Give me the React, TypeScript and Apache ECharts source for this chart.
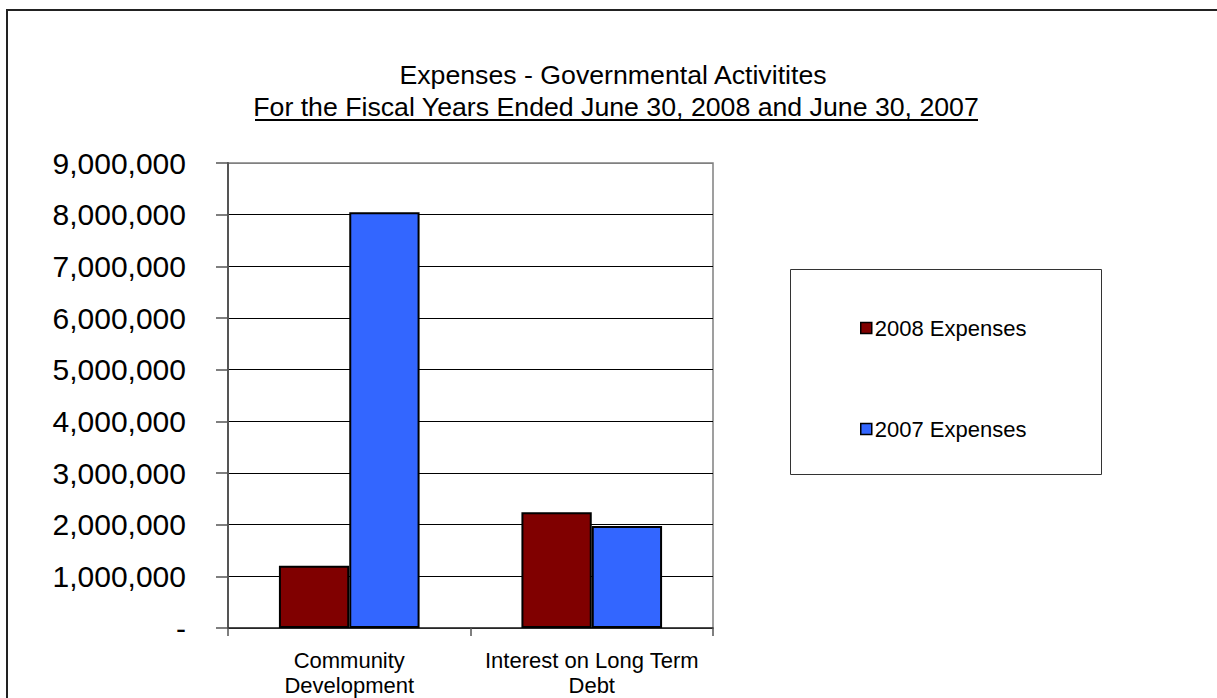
import React, { useEffect, useRef } from "react";
import * as echarts from "echarts";

const categories = ["Community\nDevelopment", "Interest on Long Term\nDebt"];
const expenses2008 = [1205000, 2240000];
const expenses2007 = [8045000, 1975000];
const seriesNames = ["2008 Expenses", "2007 Expenses"];
const titleText = "Expenses - Governmental Activitites";
const subtitleText = "For the Fiscal Years Ended June 30, 2008 and June 30, 2007";

const FONT = '"Liberation Sans", Arial, sans-serif';

export default function App() {
  const ref = useRef<HTMLDivElement>(null);
  useEffect(() => {
    if (!ref.current) return;
    const chart = echarts.init(ref.current, null, { renderer: "svg" });
    const splitColors = ["#000", "#000", "#000", "#000", "#000", "#000", "#000", "#000", "#000", "#808080"];
    const legendCommon = {
      left: 855,
      icon: "rect",
      itemWidth: 11,
      itemHeight: 11,
      itemStyle: { borderColor: "#000", borderWidth: 1.5 },
      textStyle: { fontSize: 22, color: "#000", fontFamily: FONT, padding: [0, 0, 0, -2] },
    };
    chart.setOption({
      animation: false,
      backgroundColor: "#fff",
      textStyle: { fontFamily: FONT },
      grid: {
        left: 228,
        right: 504,
        top: 163,
        bottom: 70,
        show: true,
        borderColor: "#808080",
        borderWidth: 1.5,
      },
      legend: [
        { ...legendCommon, data: [seriesNames[0]], top: 312 },
        { ...legendCommon, data: [seriesNames[1]], top: 413 },
      ],
      xAxis: {
        type: "category",
        data: categories,
        axisLine: { lineStyle: { color: "#333", width: 1.5 } },
        axisTick: { show: true, length: 8, lineStyle: { color: "#555", width: 1.5 } },
        axisLabel: {
          interval: 0,
          fontSize: 22,
          lineHeight: 25,
          color: "#000",
          margin: 20,
          fontFamily: FONT,
        },
      },
      yAxis: {
        type: "value",
        min: 0,
        max: 9000000,
        interval: 1000000,
        axisLine: { show: true, lineStyle: { color: "#555", width: 2 } },
        axisTick: { show: true, length: 12, lineStyle: { color: "#555", width: 1.5 } },
        splitLine: { show: true, lineStyle: { color: splitColors, width: 1 } },
        axisLabel: {
          fontSize: 30,
          color: "#000",
          margin: 42,
          fontFamily: FONT,
          formatter: (v: number) => (v === 0 ? "-" : v.toLocaleString("en-US")),
        },
      },
      series: [
        {
          name: seriesNames[0],
          type: "bar",
          data: expenses2008,
          barGap: "0%",
          barCategoryGap: "42%",
          itemStyle: { color: "#800000", borderColor: "#000", borderWidth: 2 },
        },
        {
          name: seriesNames[1],
          type: "bar",
          data: expenses2007,
          barGap: "0%",
          barCategoryGap: "42%",
          itemStyle: { color: "#3366FF", borderColor: "#000", borderWidth: 2 },
        },
      ],
      graphic: [
        {
          type: "rect",
          shape: { x: 7, y: 10, width: 1400, height: 900 },
          style: { fill: "none", stroke: "#222", lineWidth: 2 },
          silent: true,
          z: 100,
        },
        {
          type: "rect",
          shape: { x: 790.5, y: 269.5, width: 311, height: 205 },
          style: { fill: "none", stroke: "#333", lineWidth: 1 },
          silent: true,
        },
        {
          type: "text",
          x: 613,
          y: 75,
          style: {
            text: titleText,
            font: `26.7px ${FONT}`,
            fill: "#000",
            textAlign: "center",
            textVerticalAlign: "middle",
          },
        },
        {
          type: "text",
          x: 616,
          y: 107,
          style: {
            text: subtitleText,
            font: `26.7px ${FONT}`,
            fill: "#000",
            textAlign: "center",
            textVerticalAlign: "middle",
          },
        },
        {
          type: "line",
          shape: { x1: 255, y1: 120, x2: 978, y2: 120 },
          style: { stroke: "#000", lineWidth: 2 },
        },
      ],
    });
    return () => chart.dispose();
  }, []);
  return (
    <div
      ref={ref}
      style={{ position: "fixed", left: 0, top: 0, width: 1217, height: 698 }}
    />
  );
}
